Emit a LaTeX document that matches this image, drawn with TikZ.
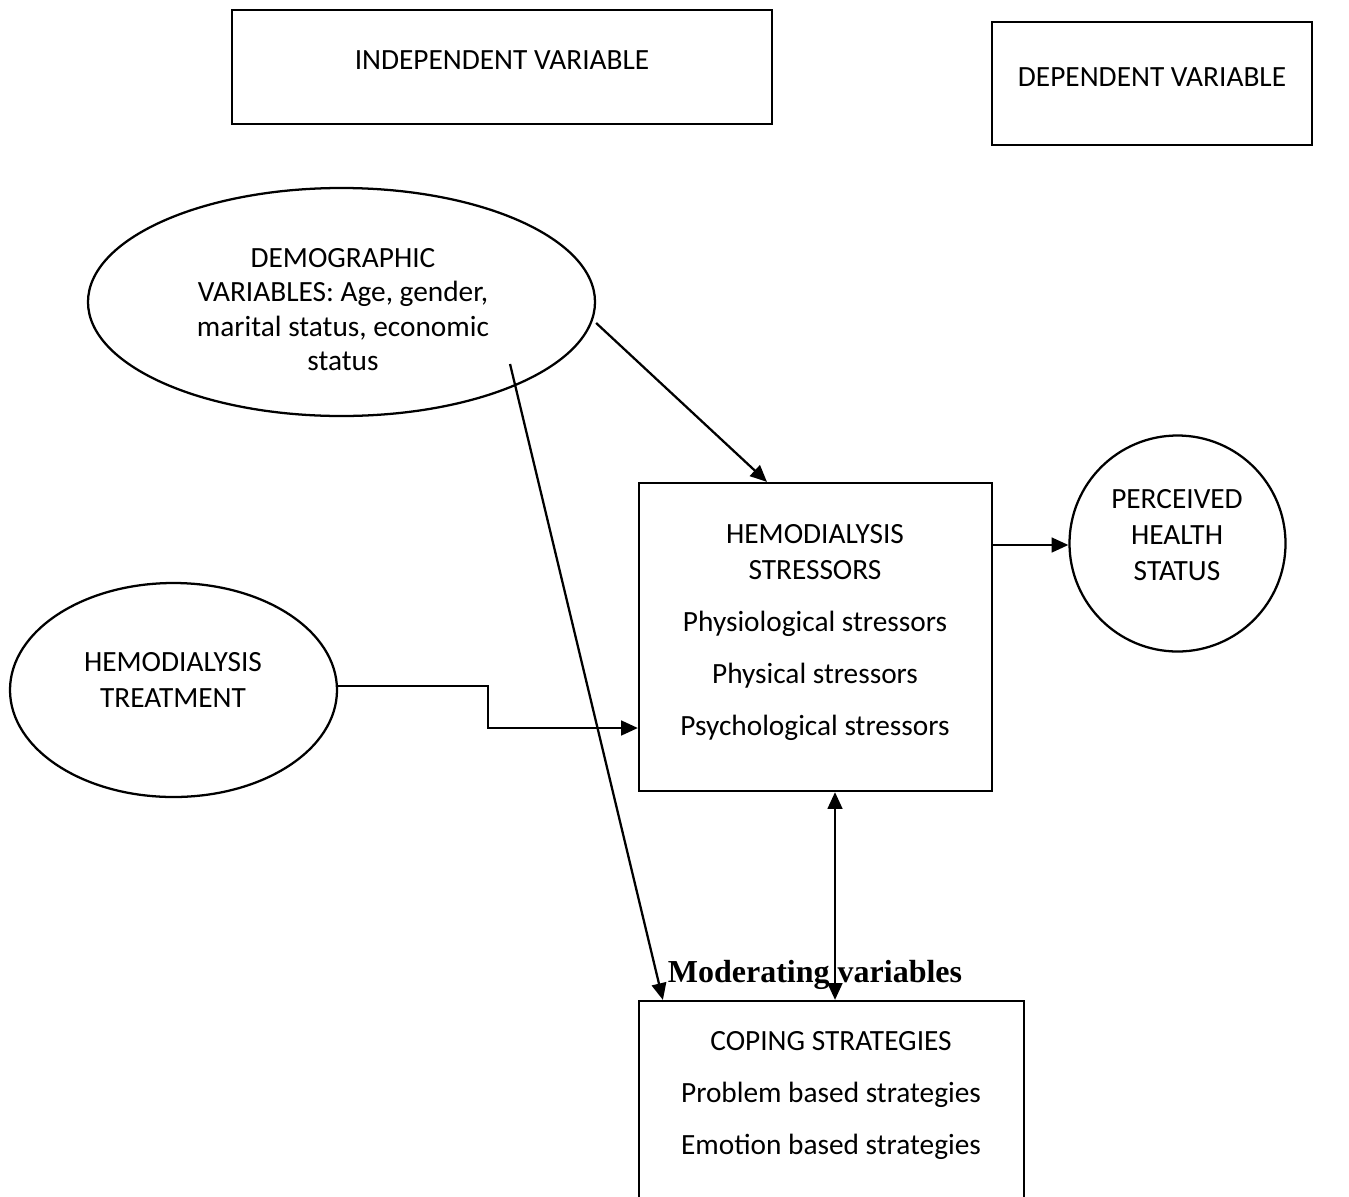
\documentclass[tikz,border=0pt]{standalone}
\usepackage{fontspec}
\setmainfont{Carlito}
\newfontfamily\timesfont{Liberation Serif}
\usetikzlibrary{shapes.geometric,arrows.meta}
\begin{document}
\begin{tikzpicture}[x=0.75pt,y=-0.75pt,
  txt/.style={font=\fontsize{22}{27}\selectfont, align=center, inner sep=0pt},
  box/.style={draw, rectangle, line width=1.7pt, inner sep=0pt},
  oval/.style={draw, ellipse, line width=1.7pt, inner sep=0pt},
  conn/.style={line width=1.7pt, -{Triangle[length=12.5pt,width=11pt]}},
  dconn/.style={line width=1.7pt, {Triangle[length=12.5pt,width=11pt]}-{Triangle[length=12.5pt,width=11pt]}}
]
\clip (0,0) rectangle (1349,1196);
\fill[white] (0,0) rectangle (1349,1196);

% shapes
\node[box, minimum width=405pt, minimum height=85.5pt] (indep) at (502,67) {};
\node[box, minimum width=240pt, minimum height=92.25pt] (dep) at (1152,83.5) {};
\node[oval, minimum width=380.25pt, minimum height=171pt] (demo) at (341.5,302) {};
\node[oval, minimum width=245.25pt, minimum height=160.5pt] (treat) at (173.5,690) {};
\node[box, minimum width=264.75pt, minimum height=231pt] (stress) at (815.5,637) {};
\node[draw, circle, line width=1.7pt, inner sep=0pt, minimum size=162pt] (perc) at (1177.5,543.5) {};
\node[box, minimum width=288.75pt, minimum height=171.75pt] (coping) at (831.5,1115.5) {};

% texts
\node[txt] (indepT) at (502,60) {INDEPENDENT VARIABLE};
\node[txt] (depT) at (1152,77) {DEPENDENT VARIABLE};
\node[txt, font=\fontsize{22}{25.7}\selectfont] (demoT) at (343,309.5) {DEMOGRAPHIC\\VARIABLES: Age, gender,\\marital status, economic\\status};
\node[txt] (treatT) at (173,680) {HEMODIALYSIS\\TREATMENT};
\node[txt] (stressT) at (815,632.5) {HEMODIALYSIS\\STRESSORS\\[11.5pt]Physiological stressors\\[12pt]Physical stressors\\[12pt]Psychological stressors};
\node[txt] (percT) at (1177,535) {PERCEIVED\\HEALTH\\STATUS};
\node[txt] (copingT) at (831,1095.5) {COPING STRATEGIES\\[12pt]Problem based strategies\\[12pt]Emotion based strategies};
\node[inner sep=0pt, font=\timesfont\bfseries\fontsize{24}{28}\selectfont] (moder) at (815,975) {Moderating variables};

% connectors
\draw[conn] ([yshift=-15.75pt]demo.east) -- ([xshift=-36.4pt]stress.north);
\draw[conn] ([xshift=126.4pt,yshift=-46.5pt]demo.center) -- ([xshift=18.75pt]coping.north west);
\coordinate (bend) at (488,707);
\draw[conn] ([yshift=3pt]treat.east) -| (bend) |- ([yshift=-68.25pt]stress.west);
\draw[dconn] ([xshift=14.625pt]stress.south) -- ([xshift=14.625pt]stress.south |- coping.north);
\draw[conn] ([yshift=69pt]stress.east) -- ([yshift=69pt]stress.east -| perc.west);
\end{tikzpicture}
\end{document}
